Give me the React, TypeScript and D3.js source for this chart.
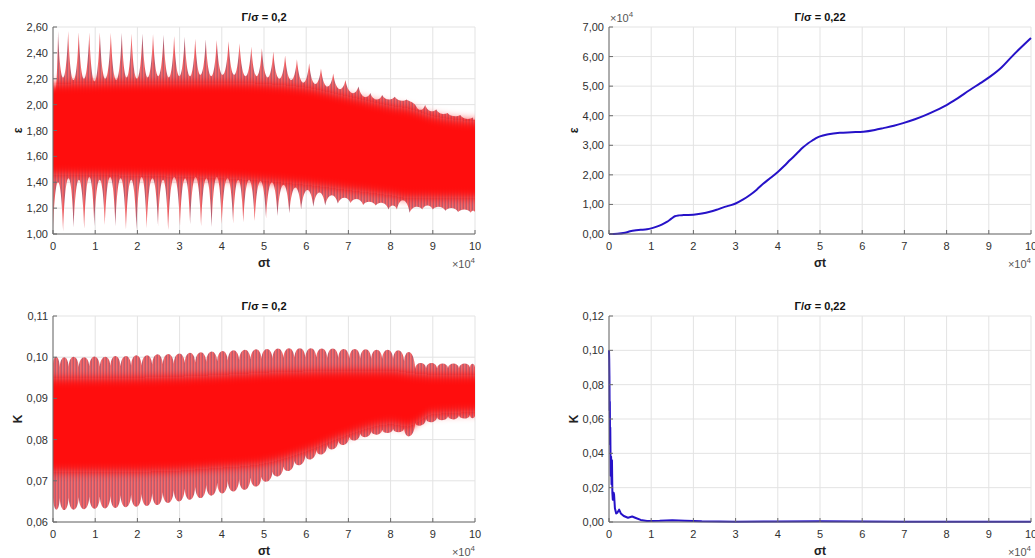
import React from 'react';
import * as d3 from 'd3';

// ---------- tick values ----------
const xTicks = [0, 1, 2, 3, 4, 5, 6, 7, 8, 9, 10];
const epsLeftTicks = [1.0, 1.2, 1.4, 1.6, 1.8, 2.0, 2.2, 2.4, 2.6];
const kLeftTicks = [0.06, 0.07, 0.08, 0.09, 0.1, 0.11];
const epsRightTicks = [0, 1, 2, 3, 4, 5, 6, 7];
const kRightTicks = [0, 0.02, 0.04, 0.06, 0.08, 0.1, 0.12];

// ---------- Γ/σ = 0,2 : ε (x in units of 10^4) ----------
// upper envelope: spike tips (cusps) and the dips between them
const epsUpT = [0, 0.12, 0.36, 0.61, 0.86, 1.11, 1.37, 1.63, 1.86, 2.12, 2.37, 2.62, 2.87, 3.12, 3.37, 3.62, 3.88, 4.16, 4.42, 4.7, 4.95, 5.22, 5.5, 5.78, 6.07, 6.35, 6.64, 6.93, 7.24, 7.52, 7.8, 8.1, 8.38, 8.62, 8.82, 9.08, 9.35, 9.65, 9.95, 10.0];
const epsUpPeak = [2.12, 2.57, 2.57, 2.56, 2.56, 2.56, 2.555, 2.555, 2.55, 2.55, 2.545, 2.54, 2.53, 2.525, 2.51, 2.505, 2.5, 2.49, 2.475, 2.45, 2.435, 2.41, 2.38, 2.35, 2.32, 2.28, 2.24, 2.19, 2.14, 2.09, 2.075, 2.06, 2.04, 1.98, 2.0, 1.965, 1.935, 1.92, 1.9, 1.89];
const epsUpDip = [2.1, 2.21, 2.19, 2.2, 2.18, 2.2, 2.19, 2.21, 2.2, 2.21, 2.22, 2.21, 2.22, 2.22, 2.23, 2.22, 2.23, 2.23, 2.22, 2.22, 2.21, 2.2, 2.19, 2.17, 2.16, 2.14, 2.12, 2.09, 2.06, 2.04, 2.04, 2.03, 2.02, 1.96, 1.95, 1.93, 1.91, 1.89, 1.88];
// lower envelope: downward spike tips and the rises between them
const epsLoT = [0, 0.24, 0.49, 0.74, 0.98, 1.23, 1.48, 1.73, 1.98, 2.22, 2.49, 2.73, 3.01, 3.25, 3.51, 3.76, 4.0, 4.27, 4.51, 4.78, 5.05, 5.32, 5.6, 5.88, 6.17, 6.45, 6.75, 7.05, 7.35, 7.65, 7.95, 8.15, 8.45, 8.75, 9.0, 9.3, 9.6, 9.9, 10.0];
const epsLoMin = [1.02, 1.02, 1.05, 1.04, 1.06, 1.07, 1.06, 1.03, 1.03, 1.045, 1.06, 1.03, 1.06, 1.075, 1.06, 1.055, 1.075, 1.08, 1.09, 1.1, 1.12, 1.14, 1.16, 1.19, 1.21, 1.22, 1.235, 1.24, 1.225, 1.22, 1.19, 1.19, 1.165, 1.19, 1.19, 1.18, 1.17, 1.165, 1.17];
const epsLoRise = [1.4, 1.43, 1.42, 1.44, 1.42, 1.44, 1.43, 1.42, 1.44, 1.43, 1.42, 1.44, 1.43, 1.44, 1.43, 1.44, 1.43, 1.42, 1.42, 1.41, 1.4, 1.38, 1.36, 1.34, 1.32, 1.3, 1.28, 1.27, 1.25, 1.24, 1.22, 1.26, 1.21, 1.22, 1.21, 1.2, 1.19, 1.18];
// dense solid core
const epsCoreT = [0, 2, 4, 5, 6, 7, 8, 8.4, 9, 10];
const epsCoreHi = [2.16, 2.17, 2.17, 2.16, 2.13, 2.06, 1.99, 1.97, 1.91, 1.87];
const epsCoreLo = [1.46, 1.45, 1.43, 1.41, 1.38, 1.34, 1.3, 1.28, 1.28, 1.28];

// ---------- Γ/σ = 0,2 : K ----------
const kT = [0, 0.16, 0.37, 0.61, 0.86, 1.11, 1.36, 1.6, 1.85, 2.1, 2.35, 2.6, 2.86, 3.12, 3.37, 3.63, 3.89, 4.14, 4.41, 4.68, 4.94, 5.2, 5.46, 5.72, 5.98, 6.24, 6.5, 6.76, 7.02, 7.28, 7.54, 7.8, 8.06, 8.32, 8.58, 8.84, 9.1, 9.36, 9.62, 9.88, 10.0];
const kUpNotch = [0.0985, 0.0976, 0.0977, 0.0976, 0.0978, 0.0977, 0.0979, 0.0978, 0.098, 0.098, 0.0982, 0.0983, 0.0984, 0.0986, 0.0987, 0.0989, 0.099, 0.0992, 0.0993, 0.0995, 0.0996, 0.0997, 0.0998, 0.0999, 0.0999, 0.0999, 0.0998, 0.0998, 0.0997, 0.0997, 0.0996, 0.0996, 0.0996, 0.099, 0.0972, 0.0974, 0.0973, 0.0974, 0.0974, 0.0975, 0.0975];
const kUpLobe = [0.1001, 0.1, 0.1001, 0.1, 0.1002, 0.1001, 0.1003, 0.1003, 0.1005, 0.1005, 0.1007, 0.1008, 0.1009, 0.1011, 0.1012, 0.1014, 0.1015, 0.1017, 0.1018, 0.1019, 0.102, 0.1021, 0.1022, 0.1022, 0.1022, 0.1021, 0.1021, 0.102, 0.102, 0.1019, 0.1018, 0.1018, 0.1017, 0.1012, 0.0986, 0.0986, 0.0985, 0.0985, 0.0985, 0.0984];
const kLoNotch = [0.066, 0.0658, 0.0659, 0.066, 0.0661, 0.0662, 0.0663, 0.0665, 0.0666, 0.0668, 0.067, 0.0672, 0.0677, 0.0681, 0.0685, 0.069, 0.0695, 0.07, 0.0704, 0.0708, 0.071, 0.0722, 0.0735, 0.0748, 0.0762, 0.0775, 0.0787, 0.0797, 0.0807, 0.0815, 0.082, 0.0824, 0.0826, 0.0827, 0.084, 0.085, 0.0854, 0.0857, 0.0859, 0.086, 0.0858];
const kLoLobe = [0.063, 0.0629, 0.063, 0.0631, 0.0632, 0.0633, 0.0634, 0.0636, 0.0637, 0.0639, 0.0641, 0.0646, 0.065, 0.0654, 0.0658, 0.0664, 0.0669, 0.0674, 0.0678, 0.0686, 0.0698, 0.0711, 0.0724, 0.0738, 0.0752, 0.0764, 0.0776, 0.0787, 0.0798, 0.0806, 0.0812, 0.0816, 0.0818, 0.0808, 0.0834, 0.0842, 0.0847, 0.0849, 0.0851, 0.0852];
const kCoreT = [0, 2, 4, 5, 6, 7, 8, 8.4, 9, 10];
const kCoreHi = [0.0948, 0.095, 0.0957, 0.0962, 0.0965, 0.0967, 0.0967, 0.0962, 0.0957, 0.0957];
const kCoreLo = [0.0722, 0.0722, 0.0732, 0.0742, 0.0772, 0.0812, 0.0837, 0.0832, 0.0862, 0.0867];

// ---------- Γ/σ = 0,22 : ε (×10^4) ----------
const epsBT = [0, 0.2, 0.38, 0.5, 0.6, 0.75, 0.9, 1.0, 1.13, 1.25, 1.37, 1.47, 1.56, 1.66, 1.76, 2.0, 2.2, 2.39, 2.55, 2.71, 2.85, 3.0, 3.17, 3.34, 3.5, 3.66, 3.83, 4.0, 4.15, 4.29, 4.45, 4.6, 4.72, 4.84, 4.92, 5.0, 5.2, 5.47, 5.75, 6.03, 6.3, 6.5, 6.75, 6.97, 7.25, 7.5, 7.75, 8.0, 8.25, 8.55, 8.8, 9.03, 9.3, 9.54, 9.75, 10.0];
const epsBV = [0, 0.01, 0.045, 0.09, 0.12, 0.14, 0.16, 0.19, 0.25, 0.32, 0.41, 0.51, 0.6, 0.63, 0.64, 0.65, 0.69, 0.75, 0.82, 0.9, 0.96, 1.03, 1.16, 1.32, 1.5, 1.71, 1.9, 2.1, 2.3, 2.5, 2.72, 2.93, 3.07, 3.18, 3.25, 3.3, 3.37, 3.42, 3.44, 3.46, 3.52, 3.58, 3.66, 3.75, 3.88, 4.02, 4.18, 4.36, 4.58, 4.87, 5.1, 5.32, 5.63, 5.99, 6.29, 6.63];

// ---------- Γ/σ = 0,22 : K ----------
const kBT = [0, 0.005, 0.01, 0.015, 0.02, 0.025, 0.03, 0.04, 0.05, 0.06, 0.07, 0.08, 0.09, 0.11, 0.12, 0.14, 0.17, 0.2, 0.24, 0.28, 0.35, 0.45, 0.55, 0.62, 0.75, 0.9, 1.2, 1.5, 1.8, 2.2, 3, 4, 5, 6, 7, 8, 9, 10];
const kBV = [0.1, 0.095, 0.085, 0.065, 0.07, 0.045, 0.055, 0.027, 0.038, 0.022, 0.036, 0.017, 0.013, 0.017, 0.016, 0.008, 0.005, 0.0055, 0.0072, 0.005, 0.0035, 0.0025, 0.0032, 0.0025, 0.0012, 0.0006, 0.0007, 0.001, 0.0008, 0.0004, 0.0002, 0.0003, 0.0004, 0.0003, 0.0001, 0.0001, 0.0001, 0.0001];

const FONT = '"Liberation Sans", Arial, Helvetica, sans-serif';
const fmt2 = (v: number) => d3.format('.2f')(v).replace('.', ',');

type Box = { L: number; R: number; T: number; B: number };

// path through cusps joined by rounded arcs reaching the given extreme value;
// a = how far the control points sit inside each segment (0 = needle cusps)
function scallop(xs: any, ys: any, ts: number[], cusps: number[], ext: number[], a: number, reverse = false) {
  const n = ts.length;
  const seg = (i: number) => {
    const x0 = xs(ts[i]), x1 = xs(ts[i + 1]);
    const y0 = ys(cusps[i]), y1 = ys(cusps[i + 1]);
    const ya = ys(ext[i]);
    const h = (8 * ya - y0 - y1) / 6;
    const dx = (x1 - x0) * a;
    return { x0, x1, y0, y1, h, dx };
  };
  let d = '';
  if (!reverse) {
    d += `M${xs(ts[0])},${ys(cusps[0])}`;
    for (let i = 0; i < n - 1; i++) {
      const s = seg(i);
      d += `C${s.x0 + s.dx},${s.h} ${s.x1 - s.dx},${s.h} ${s.x1},${s.y1}`;
    }
  } else {
    d += `L${xs(ts[n - 1])},${ys(cusps[n - 1])}`;
    for (let i = n - 2; i >= 0; i--) {
      const s = seg(i);
      d += `C${s.x1 - s.dx},${s.h} ${s.x0 + s.dx},${s.h} ${s.x0},${s.y0}`;
    }
  }
  return d;
}

function Grid({ box, xs, ys, yTicks }: any) {
  return (
    <g>
      <rect x={box.L} y={box.T} width={box.R - box.L} height={box.B - box.T} fill="#ffffff" />
      {xTicks.map((t) => (
        <line key={'gx' + t} x1={xs(t)} x2={xs(t)} y1={box.T} y2={box.B} stroke="#e3e3e3" strokeWidth={1} />
      ))}
      {yTicks.map((t: number) => (
        <line key={'gy' + t} x1={box.L} x2={box.R} y1={ys(t)} y2={ys(t)} stroke="#e3e3e3" strokeWidth={1} />
      ))}
    </g>
  );
}

function Frame({ box, xs, ys, yTicks, title, ylab, expTop }: any) {
  const cx = (box.L + box.R) / 2;
  const cy = (box.T + box.B) / 2;
  return (
    <g fontFamily={FONT}>
      <line x1={box.L} x2={box.L} y1={box.T} y2={box.B} stroke="#6a6a6a" strokeWidth={1} />
      <line x1={box.L} x2={box.R} y1={box.B} y2={box.B} stroke="#6a6a6a" strokeWidth={1} />
      {xTicks.map((t) => (
        <g key={'tx' + t}>
          <line x1={xs(t)} x2={xs(t)} y1={box.B} y2={box.B - 4} stroke="#6a6a6a" strokeWidth={1} />
          <text x={xs(t)} y={box.B + 16} textAnchor="middle" fontSize={11} fill="#303030">{t}</text>
        </g>
      ))}
      {yTicks.map((t: number) => (
        <g key={'ty' + t}>
          <line x1={box.L} x2={box.L + 4} y1={ys(t)} y2={ys(t)} stroke="#6a6a6a" strokeWidth={1} />
          <text x={box.L - 5} y={ys(t) + 4} textAnchor="end" fontSize={11} fill="#303030">{fmt2(t)}</text>
        </g>
      ))}
      <text x={cx} y={box.T - 6} textAnchor="middle" fontSize={11} fontWeight="bold" fill="#111">{title}</text>
      <text x={cx} y={box.B + 33} textAnchor="middle" fontSize={12} fontWeight="bold" fill="#222">σt</text>
      <text transform={`translate(${box.L - 31},${cy}) rotate(-90)`} textAnchor="middle" fontSize={12} fontWeight="bold" fill="#222">{ylab}</text>
      <text x={box.R} y={box.B + 34} textAnchor="end" fontSize={11} fill="#555">×10<tspan dy={-5} fontSize={8}>4</tspan></text>
      {expTop && (
        <text x={box.L + 1} y={box.T - 5} fontSize={11} fill="#555">×10<tspan dy={-5} fontSize={8}>4</tspan></text>
      )}
    </g>
  );
}

function Dense({ id, xs, ys, upT, up, upExt, loT, lo, loExt, coreT, coreHi, coreLo, a }: any) {
  const top = scallop(xs, ys, upT, up, upExt, a);
  const bot = scallop(xs, ys, loT, lo, loExt, a, true);
  const core = d3.area<number>()
    .x((_, i) => xs(coreT[i]))
    .y0((_, i) => ys(coreLo[i]))
    .y1((_, i) => ys(coreHi[i]))
    .curve(d3.curveMonotoneX)(coreT);
  return (
    <g clipPath={`url(#clip-${id})`}>
      <path d={top + bot + 'Z'} fill="url(#stripes)" />
      <path d={core || ''} fill="#ff1010" filter="url(#soft)" />
    </g>
  );
}

export default function App() {
  const W = 1035, H = 558;
  const bTL: Box = { L: 53, R: 475, T: 27, B: 234 };
  const bTR: Box = { L: 609, R: 1031, T: 27, B: 234 };
  const bBL: Box = { L: 53, R: 475, T: 316, B: 522 };
  const bBR: Box = { L: 609, R: 1031, T: 316, B: 522 };

  const xL = d3.scaleLinear().domain([0, 10]).range([bTL.L, bTL.R]);
  const xR = d3.scaleLinear().domain([0, 10]).range([bTR.L, bTR.R]);
  const yTL = d3.scaleLinear().domain([1.0, 2.6]).range([bTL.B, bTL.T]);
  const yBL = d3.scaleLinear().domain([0.06, 0.11]).range([bBL.B, bBL.T]);
  const yTR = d3.scaleLinear().domain([0, 7]).range([bTR.B, bTR.T]);
  const yBR = d3.scaleLinear().domain([0, 0.12]).range([bBR.B, bBR.T]);

  const lineTR = d3.line<number>().x((_, i) => xR(epsBT[i])).y((_, i) => yTR(epsBV[i])).curve(d3.curveMonotoneX)(epsBT);
  const lineBR = d3.line<number>().x((_, i) => xR(kBT[i])).y((_, i) => yBR(kBV[i])).curve(d3.curveLinear)(kBT);

  return (
    <svg width={W} height={H} style={{ position: 'absolute', left: 0, top: 0, background: '#fff' }}>
      <defs>
        <pattern id="stripes" patternUnits="userSpaceOnUse" width={3} height={10}>
          <rect x={0} y={0} width={1.2} height={10} fill="#e85a5f" />
          <rect x={1.2} y={0} width={0.8} height={10} fill="#a43f55" />
          <rect x={2} y={0} width={1} height={10} fill="#f06e70" />
        </pattern>
        <filter id="soft" x="0" y="-50%" width="100%" height="200%">
          <feGaussianBlur stdDeviation="0 5" />
        </filter>
        <clipPath id="clip-tl"><rect x={bTL.L} y={bTL.T - 2} width={bTL.R - bTL.L} height={bTL.B - bTL.T + 2} /></clipPath>
        <clipPath id="clip-bl"><rect x={bBL.L} y={bBL.T - 2} width={bBL.R - bBL.L} height={bBL.B - bBL.T + 2} /></clipPath>
      </defs>

      <Grid box={bTL} xs={xL} ys={yTL} yTicks={epsLeftTicks} />
      <Grid box={bTR} xs={xR} ys={yTR} yTicks={epsRightTicks} />
      <Grid box={bBL} xs={xL} ys={yBL} yTicks={kLeftTicks} />
      <Grid box={bBR} xs={xR} ys={yBR} yTicks={kRightTicks} />

      <Dense id="tl" xs={xL} ys={yTL} a={0.22}
        upT={epsUpT} up={epsUpPeak} upExt={epsUpDip}
        loT={epsLoT} lo={epsLoMin} loExt={epsLoRise}
        coreT={epsCoreT} coreHi={epsCoreHi} coreLo={epsCoreLo} />
      <Dense id="bl" xs={xL} ys={yBL} a={0.08}
        upT={kT} up={kUpNotch} upExt={kUpLobe}
        loT={kT} lo={kLoNotch} loExt={kLoLobe}
        coreT={kCoreT} coreHi={kCoreHi} coreLo={kCoreLo} />

      <path d={lineTR || ''} fill="none" stroke="#2612c8" strokeWidth={2} />
      <path d={lineBR || ''} fill="none" stroke="#2612c8" strokeWidth={2} strokeLinejoin="round" />

      <Frame box={bTL} xs={xL} ys={yTL} yTicks={epsLeftTicks} title="Γ/σ = 0,2" ylab="ε" />
      <Frame box={bTR} xs={xR} ys={yTR} yTicks={epsRightTicks} title="Γ/σ = 0,22" ylab="ε" expTop />
      <Frame box={bBL} xs={xL} ys={yBL} yTicks={kLeftTicks} title="Γ/σ = 0,2" ylab="K" />
      <Frame box={bBR} xs={xR} ys={yBR} yTicks={kRightTicks} title="Γ/σ = 0,22" ylab="K" />
    </svg>
  );
}
